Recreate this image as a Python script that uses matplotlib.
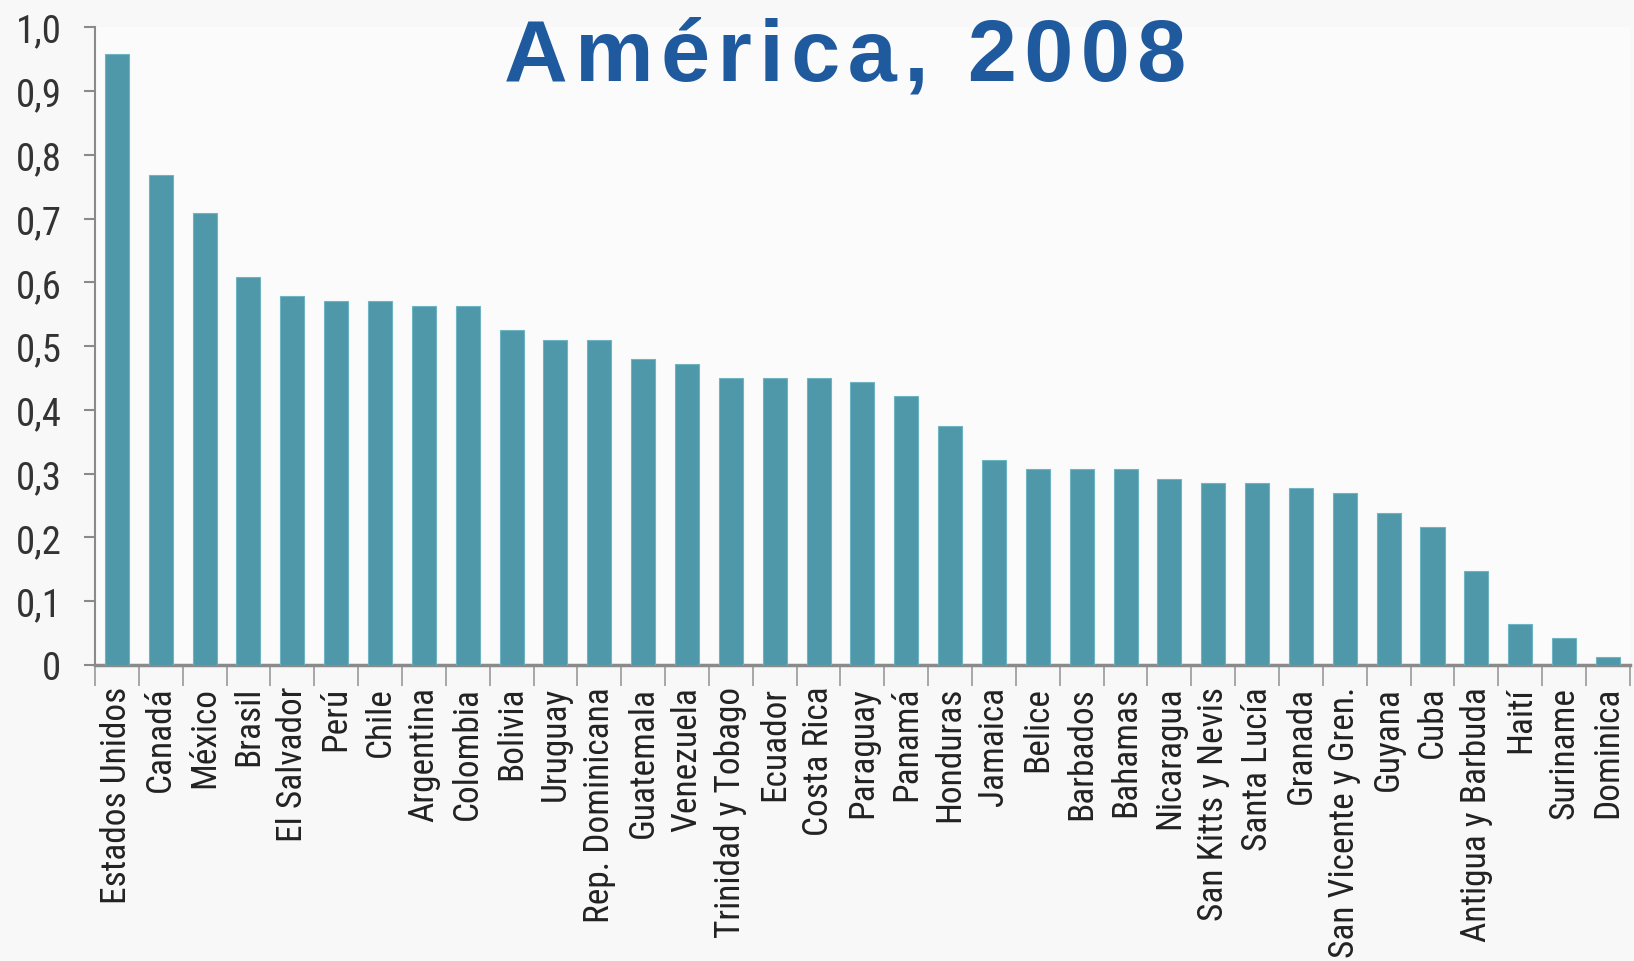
import matplotlib
matplotlib.use("Agg")
import matplotlib.pyplot as plt
from matplotlib import font_manager
import numpy as np

countries = ["Estados Unidos", "Canadá", "México", "Brasil", "El Salvador", "Perú", "Chile",
             "Argentina", "Colombia", "Bolivia", "Uruguay", "Rep. Dominicana", "Guatemala",
             "Venezuela", "Trinidad y Tobago", "Ecuador", "Costa Rica", "Paraguay", "Panamá",
             "Honduras", "Jamaica", "Belice", "Barbados", "Bahamas", "Nicaragua",
             "San Kitts y Nevis", "Santa Lucía", "Granada", "San Vicente y Gren.", "Guyana",
             "Cuba", "Antigua y Barbuda", "Haití", "Suriname", "Dominica"]
values = [0.958, 0.768, 0.708, 0.609, 0.578, 0.571, 0.571,
          0.563, 0.563, 0.525, 0.510, 0.510, 0.480,
          0.472, 0.450, 0.450, 0.450, 0.444, 0.421,
          0.375, 0.322, 0.307, 0.307, 0.307, 0.292,
          0.285, 0.285, 0.277, 0.269, 0.239,
          0.216, 0.148, 0.065, 0.042, 0.012]
yticks = [0, 0.1, 0.2, 0.3, 0.4, 0.5, 0.6, 0.7, 0.8, 0.9, 1.0]
ytick_labels = ["0", "0,1", "0,2", "0,3", "0,4", "0,5", "0,6", "0,7", "0,8", "0,9", "1,0"]
title = "América, 2008"

# pick a condensed font if one is installed
names = {f.name for f in font_manager.fontManager.ttflist}
cond_family, xsize, ysize = "Liberation Sans", 22, 23
for fam in ["Liberation Sans Narrow", "Arial Narrow", "Roboto Condensed", "Open Sans Condensed"]:
    if fam in names:
        cond_family, xsize, ysize = fam, 25.5, 28
        break

fig = plt.figure(figsize=(16.34, 9.62), dpi=100, facecolor="#f8f8f8")
ax = fig.add_axes([0.0581, 0.3077, 0.9394, 0.663])
ax.set_facecolor("#fbfbfb")

x = np.arange(len(countries))
ax.bar(x, values, width=0.55, color="#4f98aa", edgecolor="#6fb4c2", linewidth=0.8, zorder=3)

ax.set_xlim(-0.5, len(countries) - 0.5)
ax.set_ylim(0, 1.0)

ax.set_yticks(yticks)
ax.set_yticklabels(ytick_labels, fontfamily=cond_family, fontsize=ysize, color="#333333")
ax.tick_params(axis="y", direction="out", length=8, width=1.5, color="#8a8a8a", pad=16)

ax.set_xticks(x)
ax.set_xticklabels(countries, rotation=90, fontfamily=cond_family,
                   fontsize=xsize, color="#222222", va="top", ha="center")
ax.tick_params(axis="x", which="major", length=0, pad=15)
ax.set_xticks(np.arange(-0.5, len(countries), 1.0), minor=True)
ax.tick_params(axis="x", which="minor", direction="out", length=15, width=1.2, color="#9a9a9a")

for s in ["top", "right"]:
    ax.spines[s].set_visible(False)
ax.spines["left"].set_color("#8a8a8a")
ax.spines["left"].set_linewidth(1.5)
ax.spines["bottom"].set_color("#8a8a8a")
ax.spines["bottom"].set_linewidth(2.5)

t = "\u200a".join(list(title))
fig.text(0.517, 0.916, t, ha="center", va="baseline", fontsize=63.5, fontweight="bold",
         color="#1f5a9e", family=["Liberation Sans", "DejaVu Sans"])

fig.savefig("out.png", dpi=100, facecolor=fig.get_facecolor())
